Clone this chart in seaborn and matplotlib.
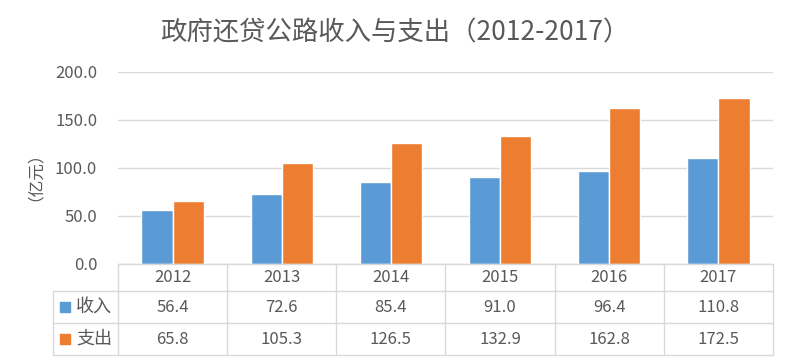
import numpy as np
import pandas as pd
import matplotlib
matplotlib.use("Agg")
import matplotlib.pyplot as plt
import matplotlib.transforms as mtransforms
from matplotlib.lines import Line2D
from matplotlib.patches import Rectangle
import seaborn as sns

years = ["2012", "2013", "2014", "2015", "2016", "2017"]
income = [56.4, 72.6, 85.4, 91.0, 96.4, 110.8]
expense = [65.8, 105.3, 126.5, 132.9, 162.8, 172.5]
series_names = ["收入", "支出"]
colors = ["#5B9BD5", "#ED7D31"]

df = pd.DataFrame({
    "年份": years * 2,
    "类别": [series_names[0]] * len(years) + [series_names[1]] * len(years),
    "金额": income + expense,
})

sns.set_theme(style="white")
plt.rcParams["font.family"] = ["Noto Sans CJK SC", "DejaVu Sans"]
txt = "#595959"
grid_c = "#D9D9D9"
fs = 12

fig = plt.figure(figsize=(7.9, 3.61), dpi=100)
ax = fig.add_axes([118 / 790, 1 - 264 / 361, 655 / 790, 192 / 361])

sns.barplot(data=df, x="年份", y="金额", hue="类别", palette=colors,
            width=0.57, gap=0, saturation=1, legend=False, ax=ax)

ax.set_ylim(0, 200)
ax.set_xlim(-0.5, len(years) - 0.5)
ax.set_yticks(np.arange(0, 201, 50))
ax.set_yticklabels([f"{v:.1f}" for v in np.arange(0, 201, 50)], color=txt, fontsize=fs)
ax.tick_params(axis="y", length=0, pad=15)
ax.set_xticks([])
ax.set_xlabel("")
ax.set_ylabel("（亿元）", color=txt, fontsize=fs)
ax.yaxis.set_label_coords(-0.127, 0.5)
ax.grid(axis="y", color=grid_c, linewidth=1)
ax.set_axisbelow(True)
for s in ax.spines.values():
    s.set_visible(False)

fig.suptitle("政府还贷公路收入与支出（2012-2017）", y=1 - 33 / 361, va="center",
             fontsize=19, color=txt)

# data table below the axis
tr = mtransforms.blended_transform_factory(ax.transData, ax.transAxes)
h = 192
y_top = 0.0
y_r1 = -27 / h
y_r2 = -59 / h
y_r3 = -91 / h
x_left_data = -0.5 - (118 - 53) / (655 / len(years))
x_right = len(years) - 0.5
lw = 1

def hline(y, x0, x1):
    fig.add_artist(Line2D([x0, x1], [y, y], transform=tr, color=grid_c, lw=lw, clip_on=False))

def vline(x, y0, y1):
    fig.add_artist(Line2D([x, x], [y0, y1], transform=tr, color=grid_c, lw=lw, clip_on=False))

hline(y_top, -0.5, x_right)
hline(y_r1, x_left_data, x_right)
hline(y_r2, x_left_data, x_right)
hline(y_r3, x_left_data, x_right)
vline(x_left_data, y_r1, y_r3)
for i in range(len(years) + 1):
    vline(i - 0.5, y_top, y_r3)

for i, yr in enumerate(years):
    ax.text(i, (y_top + y_r1) / 2, yr, transform=tr, ha="center", va="center",
            fontsize=fs, color=txt, clip_on=False)
    ax.text(i, (y_r1 + y_r2) / 2, f"{income[i]:.1f}", transform=tr, ha="center",
            va="center", fontsize=fs, color=txt, clip_on=False)
    ax.text(i, (y_r2 + y_r3) / 2, f"{expense[i]:.1f}", transform=tr, ha="center",
            va="center", fontsize=fs, color=txt, clip_on=False)

for k, (name, c) in enumerate(zip(series_names, colors)):
    yc = 1 - (307 + 32 * k) / 361
    fig.add_artist(Rectangle((60 / 790, yc - 5 / 361), 10 / 790, 10 / 361,
                             transform=fig.transFigure, color=c))
    fig.text(76 / 790, yc, name, ha="left", va="center", fontsize=13, color=txt)

fig.savefig("out.png", dpi=100, facecolor="white")
